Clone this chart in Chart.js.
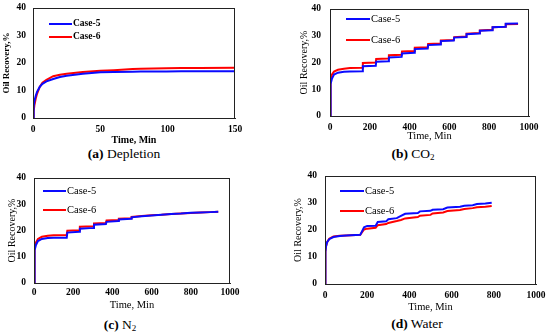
<!DOCTYPE html>
<html>
<head>
<meta charset="utf-8">
<script src="https://cdn.jsdelivr.net/npm/chart.js@4.4.0/dist/chart.umd.min.js"></script>
<style>
  body { margin: 0; background: #fff; }
  #wrap { position: relative; width: 550px; height: 336px; overflow: hidden; }
  canvas { position: absolute; }
  .cap { position: absolute; width: 200px; text-align: center; font: 13.5px "Liberation Serif", "Times New Roman", serif; color: #000; }
  .cap b { font-weight: bold; }
  .cap sub { font-size: 9px; vertical-align: -2px; }
</style>
</head>
<body>
<div id="wrap">
  <canvas id="c1" width="246" height="146" style="left:1px;top:0px"></canvas>
  <canvas id="c2" width="243" height="142" style="left:298px;top:1px"></canvas>
  <canvas id="c3" width="236" height="142" style="left:6px;top:170px"></canvas>
  <canvas id="c4" width="256" height="146" style="left:292px;top:168px"></canvas>
  <div class="cap" style="left:24px;top:146px"><b>(a)</b> Depletion</div>
  <div class="cap" style="left:313px;top:146px"><b>(b)</b> CO<sub>2</sub></div>
  <div class="cap" style="left:20px;top:317px"><b>(c)</b> N<sub>2</sub></div>
  <div class="cap" style="left:317px;top:316px"><b>(d)</b> Water</div>
</div>
<script>
// series labels
var seriesLabels = ['Case-5', 'Case-6'];

// (a) depletion
var depletionTime  = [0, 0.5, 1, 2, 3, 5, 7, 10, 15, 20, 25, 37, 50, 60, 74, 80, 99, 110, 124, 150];
var depletionCase5 = [0, 4.2, 6, 8, 9.5, 11.3, 12.4, 13.3, 14.2, 14.9, 15.4, 16.1, 16.6, 16.7, 16.8, 16.9, 16.9, 17.0, 17.0, 17.0];
var depletionCase6 = [0, 2.5, 4.5, 7, 8.8, 11.3, 12.8, 13.9, 15.2, 15.7, 16.1, 16.7, 17.2, 17.4, 17.8, 17.9, 18.1, 18.2, 18.2, 18.3];

// (b) CO2
var co2Time  = [0, 1, 3, 5, 10, 20, 40, 70, 100, 163, 165, 230, 232, 294, 296, 360, 362, 424, 426, 491, 493, 555, 557, 622, 624, 684, 686, 751, 753, 815, 817, 881, 883, 945];
var co2Case5 = [0, 7, 10.5, 12, 14, 15.5, 16.2, 16.5, 16.6, 16.7, 18.6, 18.8, 20.3, 20.5, 21.9, 22.1, 23.4, 23.6, 25.0, 25.2, 26.5, 26.7, 28.0, 28.2, 29.3, 29.5, 30.6, 30.8, 31.9, 32.1, 33.2, 33.4, 34.5, 34.6];
var co2Case6 = [0, 8, 12, 14, 15.5, 16.6, 17.3, 17.7, 17.9, 18.0, 19.8, 20.0, 21.3, 21.5, 22.7, 22.9, 24.1, 24.3, 25.5, 25.7, 26.9, 27.1, 28.2, 28.4, 29.5, 29.7, 30.8, 31.0, 32.0, 32.2, 33.2, 33.4, 34.3, 34.4];

// (c) N2
var n2Time  = [0, 1, 3, 5, 10, 20, 40, 70, 100, 167, 170, 231, 234, 303, 306, 367, 370, 430, 433, 495, 498, 550, 600, 650, 700, 750, 800, 850, 900, 940];
var n2Case5 = [0, 7, 11, 12.5, 14.5, 16.0, 16.8, 17.1, 17.2, 17.2, 19.2, 19.5, 20.7, 21.0, 22.2, 22.5, 23.3, 23.6, 24.2, 24.5, 25.0, 25.4, 25.7, 26.0, 26.3, 26.5, 26.8, 26.9, 27.0, 27.1];
var n2Case6 = [0, 8, 12.5, 14, 15.5, 16.8, 17.6, 18.0, 18.2, 18.3, 19.9, 20.1, 21.4, 21.6, 22.7, 22.9, 23.8, 24.0, 24.5, 24.7, 25.2, 25.5, 25.8, 26.0, 26.3, 26.5, 26.7, 26.9, 27.0, 27.1];

// (d) water
var waterTime  = [0, 1, 3, 5, 10, 20, 40, 70, 100, 167, 185, 200, 240, 250, 290, 300, 340, 360, 380, 440, 450, 500, 510, 560, 580, 640, 660, 700, 720, 760, 790];
var waterCase5 = [0, 8, 12, 14, 15.5, 16.6, 17.4, 17.8, 18.0, 18.2, 21.0, 21.5, 21.6, 23.0, 23.2, 24.0, 24.4, 25.2, 26.0, 26.3, 26.9, 27.1, 27.5, 27.7, 28.3, 28.6, 29.0, 29.2, 29.6, 29.8, 30.1];
var waterCase6 = [0, 8, 12, 14, 15.5, 16.8, 17.6, 17.9, 18.0, 18.2, 20.2, 20.5, 20.8, 21.8, 22.2, 22.6, 23.3, 23.7, 24.3, 24.8, 25.3, 25.6, 26.1, 26.5, 27.0, 27.4, 27.8, 28.1, 28.4, 28.6, 28.9];

var yTicks = [0, 10, 20, 30, 40];
var xTitle = 'Time, Min';
var yTitle = 'Oil Recovery,%';
var serif = '"Liberation Serif", "Times New Roman", serif';

// legend drawn inside the plot area
var insetLegend = {
  id: 'insetLegend',
  afterDatasetsDraw: function (chart, args, opts) {
    var ctx = chart.ctx, area = chart.chartArea;
    ctx.save();
    ctx.font = opts.font;
    ctx.textBaseline = 'middle';
    chart.data.datasets.forEach(function (ds, i) {
      var x = area.left + opts.x, y = area.top + opts.y + i * opts.gap;
      ctx.strokeStyle = ds.borderColor;
      ctx.lineWidth = 2;
      ctx.beginPath(); ctx.moveTo(x, y); ctx.lineTo(x + opts.len, y); ctx.stroke();
      ctx.fillStyle = '#000';
      ctx.fillText(ds.label, x + opts.len + 1, y);
    });
    ctx.restore();
  }
};

// box round the plot area
var frame = {
  id: 'frame',
  afterDraw: function (chart) {
    var ctx = chart.ctx, a = chart.chartArea;
    ctx.save();
    ctx.strokeStyle = '#222';
    ctx.lineWidth = 1;
    ctx.strokeRect(a.left + 0.5, a.top + 0.5, a.right - a.left - 1, a.bottom - a.top);
    ctx.restore();
  }
};

function pts(t, v) {
  return t.map(function (x, i) { return { x: x, y: v[i] }; });
}

function makeChart(id, time, c5, c6, o) {
  var ctx = document.getElementById(id).getContext('2d');
  return new Chart(ctx, {
    type: 'scatter',
    data: {
      datasets: [
        { label: seriesLabels[0], data: pts(time, c5), borderColor: '#0a0aff', backgroundColor: '#0a0aff', borderWidth: 2, showLine: true, pointRadius: 0, tension: 0 },
        { label: seriesLabels[1], data: pts(time, c6), borderColor: '#ff0000', backgroundColor: '#ff0000', borderWidth: 2, showLine: true, pointRadius: 0, tension: 0 }
      ]
    },
    options: {
      responsive: false,
      animation: false,
      devicePixelRatio: 1,
      layout: { padding: { left: 0, right: 12, top: 8, bottom: 0 } },
      plugins: {
        legend: { display: false },
        tooltip: { enabled: false },
        insetLegend: o.legend
      },
      scales: {
        x: {
          type: 'linear', min: 0, max: o.xMax,
          grid: { display: false, drawTicks: false },
          border: { display: true, color: '#222' },
          ticks: { stepSize: o.xStep, padding: o.xPad, color: '#000', font: { family: serif, size: 9.5, weight: 'bold' },
                   callback: function (v) { return String(v); } },
          title: { display: true, text: xTitle, color: '#000', padding: 0, font: { family: serif, size: o.xtSize, weight: o.tWeight } },
          afterFit: function (s) { s.height = o.xH; s.paddingLeft = 0; s.paddingRight = 0; }
        },
        y: {
          min: 0, max: 40,
          afterBuildTicks: function (s) { s.ticks = yTicks.map(function (v) { return { value: v }; }); },
          grid: { display: false, drawTicks: false },
          border: { display: true, color: '#222' },
          ticks: { padding: o.yPad, color: '#000', font: { family: serif, size: 9.5, weight: 'bold' } },
          title: { display: true, text: yTitle, color: '#000', padding: 0, font: { family: serif, size: o.ytSize, weight: o.tWeight } },
          afterFit: function (s) { s.width = o.yW; s.paddingTop = 0; s.paddingBottom = 0; }
        }
      }
    },
    plugins: [insetLegend, frame]
  });
}

makeChart('c1', depletionTime, depletionCase5, depletionCase6, {
  xMax: 150, xStep: 50, xPad: 6, yPad: 7, xH: 28, yW: 32, xtSize: 10, ytSize: 9, tWeight: 'bold',
  legend: { x: 16, y: 16, gap: 13, len: 23, font: 'bold 9.5px ' + serif }
});
makeChart('c2', co2Time, co2Case5, co2Case6, {
  xMax: 1000, xStep: 200, xPad: 6, yPad: 9, xH: 27, yW: 32, xtSize: 10.5, ytSize: 10, tWeight: 'normal',
  legend: { x: 16, y: 10, gap: 21, len: 24, font: '10.5px ' + serif }
});
makeChart('c3', n2Time, n2Case5, n2Case6, {
  xMax: 1000, xStep: 200, xPad: 4, yPad: 8, xH: 29, yW: 28, xtSize: 10.5, ytSize: 10, tWeight: 'normal',
  legend: { x: 9, y: 13, gap: 19, len: 23, font: '10.5px ' + serif }
});
makeChart('c4', waterTime, waterCase5, waterCase6, {
  xMax: 1000, xStep: 200, xPad: 6, yPad: 8, xH: 30, yW: 33, xtSize: 10.5, ytSize: 10, tWeight: 'normal',
  legend: { x: 15, y: 15, gap: 20, len: 24, font: '10.5px ' + serif }
});
</script>
</body>
</html>
